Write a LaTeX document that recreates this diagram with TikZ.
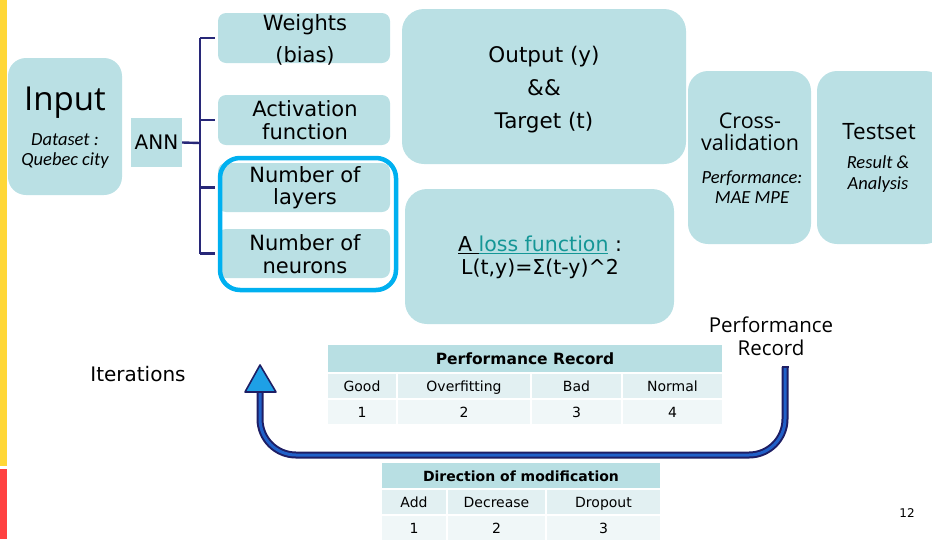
\documentclass[tikz,border=0pt]{standalone}
\usepackage{fontspec}
\setmainfont{DejaVu Sans}
\newfontfamily\calibfont{Carlito}
\newfontfamily\opensfont{Open Sans}
\usetikzlibrary{calc}

\definecolor{tilec}{RGB}{186,224,228}
\definecolor{hdc}{RGB}{184,223,227}
\definecolor{rowa}{RGB}{226,240,242}
\definecolor{rowb}{RGB}{240,247,248}
\definecolor{barY}{RGB}{255,215,55}
\definecolor{barR}{RGB}{255,65,65}
\definecolor{navy}{RGB}{40,40,120}
\definecolor{loopnavy}{RGB}{30,30,100}
\definecolor{loopcore}{RGB}{32,96,200}
\definecolor{headblue}{RGB}{30,160,230}
\definecolor{hilite}{RGB}{0,176,240}
\definecolor{tealtxt}{RGB}{20,150,150}

\tikzset{
  tile/.style={fill=tilec, draw=none, inner sep=0pt, rounded corners=#1},
  tile/.default=18pt,
  flat/.style={fill=tilec, draw=none, inner sep=0pt},
  txt/.style={inner sep=0pt, align=center, text=black},
  hdcell/.style={fill=hdc, draw=none, inner sep=0pt, text height=14.5pt, text depth=3pt},
  cellA/.style={fill=rowa, draw=none, inner sep=0pt, text height=13pt, text depth=3pt, font=\fontsize{14}{16}\selectfont},
  cellB/.style={fill=rowb, draw=none, inner sep=0pt, text height=13pt, text depth=3pt, font=\fontsize{14}{16}\selectfont},
  bracket/.style={draw=navy, line width=2.4pt},
  loopline/.style={draw=loopnavy, line width=2pt, double=loopcore, double distance=3pt},
}

\begin{document}
\begin{tikzpicture}[x=1pt,y=-1pt]
\useasboundingbox (0,0) rectangle (932,539);

% side bars
\fill[barY] (0,0) rectangle (7,466);
\fill[barR] (0,469) rectangle (7,539);

% input
\node[tile=18pt, minimum width=114pt, minimum height=137pt] (inputbox) at (65,126.5) {};
\node[txt, font=\opensfont\fontsize{33}{36}\selectfont] (inputtxt) at (65,103) {Input};
\node[txt, font=\calibfont\itshape\fontsize{18.5}{20}\selectfont] (inputsub) at (65,151.5) {Dataset :\\Quebec city};

% ANN
\node[flat, minimum width=51pt, minimum height=49pt, font=\fontsize{20}{22}\selectfont] (ann) at (156.5,142.5) {ANN};

% hyper-parameter tiles
\node[tile=8pt, minimum width=172pt, minimum height=50pt] (wts) at (304,38) {};
\node[tile=8pt, minimum width=172pt, minimum height=50pt] (act) at (304,120) {};
\node[tile=8pt, minimum width=172pt, minimum height=49pt] (lay) at (304,187.5) {};
\node[tile=8pt, minimum width=172pt, minimum height=49pt] (neu) at (304,253.5) {};
\node[txt, font=\fontsize{21}{32}\selectfont] (wtstxt) at (305,39.5) {Weights\\(bias)};
\node[txt, font=\fontsize{21}{23}\selectfont] (acttxt) at (305,120.5) {Activation\\function};
\node[txt, font=\fontsize{21}{22}\selectfont] (laytxt) at (305,188) {Number of\\layers};
\node[txt, font=\fontsize{21}{23}\selectfont] (neutxt) at (305,254) {Number of\\neurons};

% bracket from ANN to the tiles
\coordinate (fork) at (200,143);
\draw[bracket] (ann.east) -- (fork);
\draw[bracket] (200,38) -- (200,253.5);
\draw[bracket, shorten >=3pt] (200,38) -- (wts.west);
\draw[bracket, shorten >=3pt] (200,120) -- (act.west);
\draw[bracket, shorten >=3pt] (200,187.5) -- (lay.west);
\draw[bracket, shorten >=3pt] (200,253.5) -- (neu.west);

% highlighted group
\node[draw=hilite, line width=4.5pt, rounded corners=20pt, minimum width=176pt, minimum height=132pt, inner sep=0pt] (focus) at (308,224) {};

% output / target
\node[tile=22pt, minimum width=284pt, minimum height=155pt] (outbox) at (544,86.5) {};
\node[txt, font=\fontsize{21.5}{33}\selectfont] (outtxt) at (544,89.5) {Output (y)\\\&\&\\Target (t)};

% loss
\node[tile=22pt, minimum width=269pt, minimum height=135pt] (lossbox) at (539.5,256.5) {};
\node[txt, font=\fontsize{20.5}{23}\selectfont] (losstxt) at (540,257.5)
  {\underline{A }\textcolor{tealtxt}{\underline{loss function}} :\\L(t,y)=\char"03A3(t-y)\textasciicircum 2};

% cross-validation
\node[tile=20pt, minimum width=123pt, minimum height=173pt] (cvbox) at (749.5,157.5) {};
\node[txt, font=\opensfont\fontsize{21.5}{22}\selectfont] (cvtxt) at (750,132) {Cross-\\validation};
\node[txt, font=\calibfont\itshape\fontsize{18.5}{20}\selectfont] (cvsub) at (752,187.5) {Performance:\\MAE MPE};

% test set
\node[tile=20pt, minimum width=128pt, minimum height=173pt] (tsbox) at (881,157.5) {};
\node[txt, font=\opensfont\fontsize{22.5}{24}\selectfont] (tstxt) at (879,132) {Testset};
\node[txt, font=\calibfont\itshape\fontsize{18.5}{21}\selectfont] (tssub) at (878,174) {Result \&\\Analysis};

% loop labels
\node[txt, font=\opensfont\fontsize{20.5}{23}\selectfont] (perflabel) at (771,336) {Performance\\Record};
\node[txt, font=\fontsize{20}{22}\selectfont] (iter) at (138,374.5) {Iterations};

% performance record table
\node[hdcell, minimum width=394pt, minimum height=27pt, font=\bfseries\fontsize{15.5}{18}\selectfont] (prH) at (525,358.5) {Performance Record};
\node[cellA, minimum width=68pt, minimum height=24pt] (prA1) at (362,386) {Good};
\node[cellA, minimum width=132pt, minimum height=24pt] (prA2) at (464,386) {Overfitting};
\node[cellA, minimum width=89pt, minimum height=24pt] (prA3) at (576.5,386) {Bad};
\node[cellA, minimum width=99pt, minimum height=24pt] (prA4) at (672.5,386) {Normal};
\node[cellB, minimum width=68pt, minimum height=24pt] (prB1) at (362,412) {1};
\node[cellB, minimum width=132pt, minimum height=24pt] (prB2) at (464,412) {2};
\node[cellB, minimum width=89pt, minimum height=24pt] (prB3) at (576.5,412) {3};
\node[cellB, minimum width=99pt, minimum height=24pt] (prB4) at (672.5,412) {4};

% direction of modification table
\node[hdcell, minimum width=278pt, minimum height=25pt, font=\bfseries\fontsize{14}{16}\selectfont] (dmH) at (521,475.5) {Direction of modification};
\node[cellA, minimum width=64pt, minimum height=24pt] (dmA1) at (414,502) {Add};
\node[cellA, minimum width=97pt, minimum height=24pt] (dmA2) at (496.5,502) {Decrease};
\node[cellA, minimum width=113pt, minimum height=24pt] (dmA3) at (603.5,502) {Dropout};
\node[cellB, minimum width=64pt, minimum height=24pt] (dmB1) at (414,528) {1};
\node[cellB, minimum width=97pt, minimum height=24pt] (dmB2) at (496.5,528) {2};
\node[cellB, minimum width=113pt, minimum height=24pt] (dmB3) at (603.5,528) {3};

% feedback loop
\coordinate (loopStart) at (785,367);
\coordinate (loopEnd) at (260,391);
\draw[loopline, rounded corners=36pt] (loopStart) -- (785,455) -- (260,455) -- (loopEnd);
\draw[draw=loopnavy, line width=1.2pt] ($(loopStart)+(-3.5,0)$) -- ($(loopStart)+(3.5,0)$);
\filldraw[fill=headblue, draw=loopnavy, line width=1.6pt, line join=round]
  ($(loopEnd)+(-15,1)$) -- ($(loopEnd)+(0,-26)$) -- ($(loopEnd)+(16,1)$) -- cycle;

% page number
\node[txt, font=\fontsize{12}{14}\selectfont] (pageno) at (907,513) {12};
\end{tikzpicture}
\end{document}
